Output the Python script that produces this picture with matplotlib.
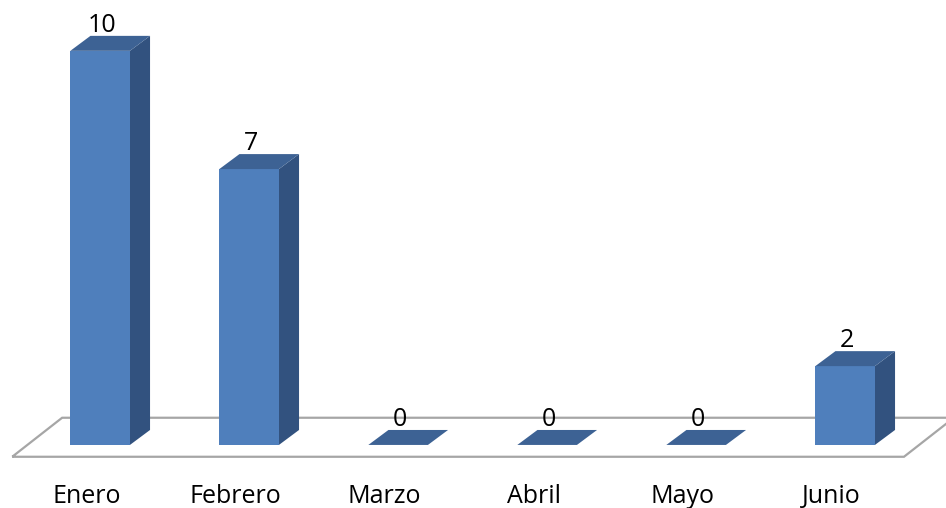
import matplotlib
matplotlib.use("Agg")
import matplotlib.pyplot as plt
from matplotlib.patches import Polygon

# data
meses = ["Enero", "Febrero", "Marzo", "Abril", "Mayo", "Junio"]
valores = [10, 7, 0, 0, 0, 2]

# look of the fake 3D bars
ancho = 0.40      # bar width in category units
prof_x = 0.135    # depth offset (x)
prof_y = 0.38     # depth offset (y, value units)
c_frente = "#4F7FBC"
c_lado = "#32527F"
c_tapa = "#3D6294"
c_piso = "#A6A6A6"

plt.rcParams["font.family"] = ["Open Sans", "DejaVu Sans"]

fig = plt.figure(figsize=(9.46, 5.08), dpi=100)
ax = fig.add_axes([0, 0, 1, 1])
ax.set_xlim(-0.672, 5.677)
ax.set_ylim(-1.60, 11.29)
ax.axis("off")

n = len(meses)
# floor of the chart
piso_y0, piso_y1 = -0.30, 0.69
piso = Polygon([(-0.59, piso_y0), (n - 0.605, piso_y0), (n - 0.27, piso_y1), (-0.255, piso_y1)],
               closed=True, facecolor="none", edgecolor=c_piso, lw=1.6, zorder=1)
ax.add_patch(piso)

for i, (mes, v) in enumerate(zip(meses, valores)):
    x0, x1 = i - ancho / 2, i + ancho / 2
    # top face
    tapa = [(x0, v), (x1, v), (x1 + prof_x, v + prof_y), (x0 + prof_x, v + prof_y)]
    if v > 0:
        ax.add_patch(Polygon([(x1, 0), (x1 + prof_x, prof_y), (x1 + prof_x, v + prof_y), (x1, v)],
                             closed=True, facecolor=c_lado, edgecolor="none", zorder=2))
        ax.add_patch(Polygon([(x0, 0), (x1, 0), (x1, v), (x0, v)],
                             closed=True, facecolor=c_frente, edgecolor="none", zorder=3))
    ax.add_patch(Polygon(tapa, closed=True, facecolor=c_tapa, edgecolor="none", zorder=3))
    ax.text(i + 0.01, v + prof_y - 0.05, str(v), ha="center", va="bottom", fontsize=18, zorder=4)
    ax.text(i - 0.09, -1.30, mes, ha="center", va="center", fontsize=18)

fig.savefig("out.png", dpi=100)
